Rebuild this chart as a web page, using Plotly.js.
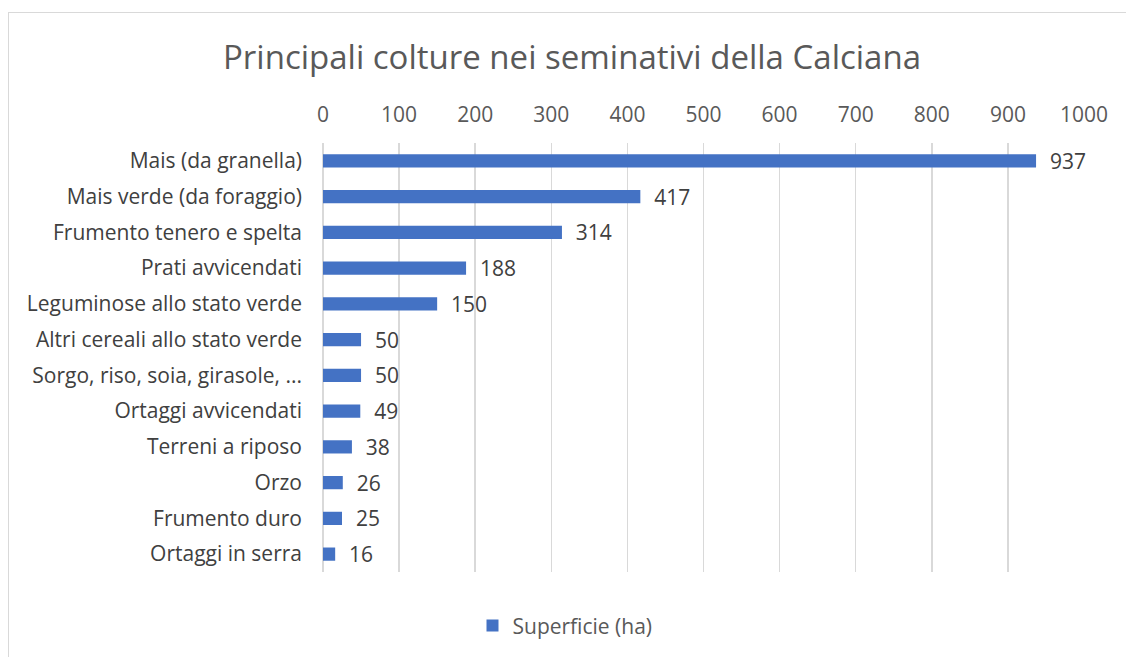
<!DOCTYPE html>
<html><head><meta charset="utf-8">
<script src="https://cdn.plot.ly/plotly-3.0.1.min.js"></script>
<style>body{margin:0;background:#fff;} #wrap{position:relative;width:1126px;height:657px;overflow:hidden;} #frame{position:absolute;left:8px;top:12px;width:1130px;height:660px;border:1px solid #d9d9d9;pointer-events:none;box-sizing:border-box;}</style>
</head><body>
<div id="wrap"><div id="chart" style="width:1126px;height:657px;"></div><div id="frame"></div></div>
<script>
const categories = ["Mais (da granella)","Mais verde (da foraggio)","Frumento tenero e spelta","Prati avvicendati","Leguminose allo stato verde","Altri cereali allo stato verde","Sorgo, riso, soia, girasole, ...","Ortaggi avvicendati","Terreni a riposo","Orzo","Frumento duro","Ortaggi in serra"];
const values = [937,417,314,188,150,50,50,49,38,26,25,16];
const seriesName = "Superficie (ha)";
const font = "'Open Sans', sans-serif";
Plotly.newPlot('chart', [{
  type:'bar', orientation:'h', x:values, y:categories, name:seriesName,
  marker:{color:'#4472c4'}, width:0.37,
  text:values.map(v=>'  '+v), textposition:'outside', cliponaxis:false, constraintext:'none',
  textfont:{family:font,size:21,color:'#404040'}
}], {
  width:1126, height:657, paper_bgcolor:'#fff', plot_bgcolor:'#fff',
  margin:{l:323,r:42,t:143,b:84},
  title:{text:'Principali colture nei seminativi della Calciana', font:{family:font,size:33,color:'#595959'}, x:0.508, xanchor:'center', y:0.913, yanchor:'middle'},
  xaxis:{side:'top', range:[0,1000], dtick:100, tick0:0, showgrid:true, gridcolor:'#d9d9d9', gridwidth:1.5, zeroline:true, zerolinecolor:'#d9d9d9', zerolinewidth:1.5, showline:false, ticks:'', tickfont:{family:font,size:21,color:'#595959'}, ticklabelstandoff:16, fixedrange:true},
  yaxis:{autorange:'reversed', type:'category', ticks:'', showline:false, showgrid:false, tickfont:{family:font,size:21,color:'#404040'}, ticklabelstandoff:20},
  showlegend:true,
  legend:{orientation:'h', x:0.318, xanchor:'center', y:-0.123, yanchor:'middle', font:{family:font,size:21,color:'#595959'}},
  bargap:0.63
}, {displayModeBar:false, staticPlot:true});
</script>
</body></html>
